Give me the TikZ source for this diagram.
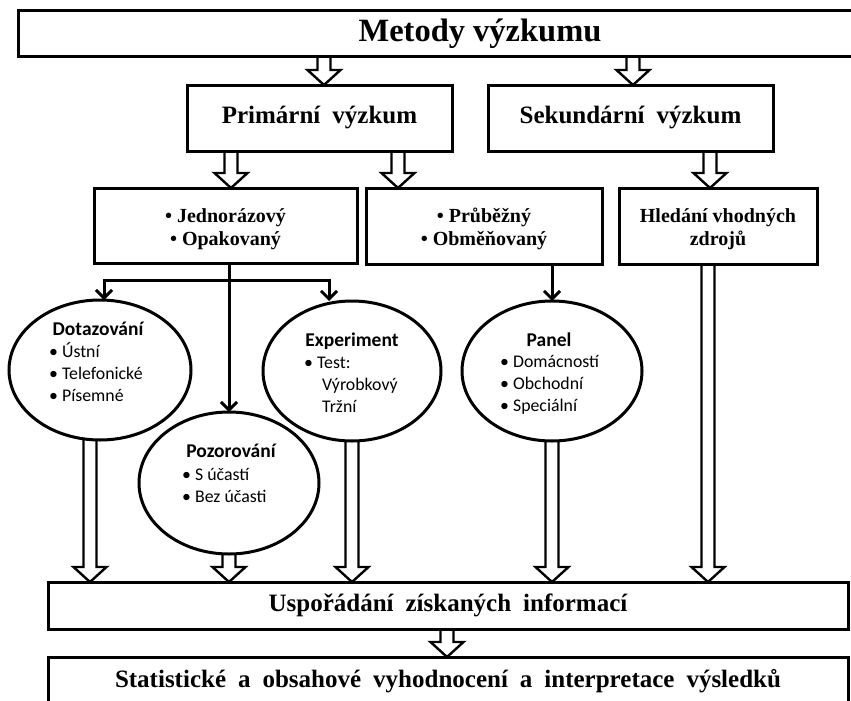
\documentclass[tikz,border=0pt]{standalone}
\usepackage{fontspec}
\setmainfont{Liberation Serif}
\newfontfamily\calib{Carlito}
\usetikzlibrary{arrows.meta,shapes.geometric,calc}

% wide word spacing used in the large box titles
\newcommand\titlefont{\fontsize{25}{28}\selectfont\spaceskip=0.48em\relax}

\tikzset{
  box/.style={draw, line width=3pt, inner sep=0pt, outer sep=0pt, font=\bfseries},
  boxtext/.style={font=\bfseries\fontsize{20}{23}\selectfont, inner sep=0pt, anchor=base},
  oval/.style={draw, ellipse, line width=3pt, inner sep=0pt, outer sep=0pt},
  conn/.style={line width=3pt},
  barb/.tip={Straight Barb[length=8pt,width=16pt]},
  connarrow/.style={conn, -barb},
  hollow/.style={line width=2.4pt, line join=miter},
  ohead/.style={font=\calib\bfseries\fontsize{19.5}{22}\selectfont, inner sep=0pt, anchor=base},
  oitems/.style={font=\calib\fontsize{17.8}{22}\selectfont, inner sep=0pt, anchor=base west},
}

% open block arrow pointing down at x = #1, from node anchor #2 to node anchor #3
\newcommand\hollowarrow[3]{%
  \draw[hollow] let \p1=(#2), \p2=(#3) in
    (#1pt-6.5pt,\y1) -- (#1pt-6.5pt,\y2+15pt) -- (#1pt-16.5pt,\y2+15pt)
    -- (#1pt,\y2) -- (#1pt+16.5pt,\y2+15pt) -- (#1pt+6.5pt,\y2+15pt)
    -- (#1pt+6.5pt,\y1);
}

\begin{document}
\begin{tikzpicture}[x=1pt,y=-1pt]
\fill[white] (0,0) rectangle (851,701);
\useasboundingbox (0,0) rectangle (851,701);

% title and main branches
\node[box, minimum width=924pt, minimum height=46pt] (metody) at (480,34)
  {\fontsize{32.5}{36}\selectfont Metody výzkumu};
\node[box, minimum width=265pt, minimum height=66pt] (prim) at (319.5,118)
  {\titlefont Primární výzkum};
\node[box, minimum width=285pt, minimum height=66pt] (sek) at (630.5,118)
  {\titlefont Sekundární výzkum};

% second level boxes
\node[box, minimum width=263pt, minimum height=75pt] (jedn) at (225.5,225.5) {};
\node[box, minimum width=236pt, minimum height=76pt] (prub) at (484,226) {};
\node[box, minimum width=198pt, minimum height=76pt] (hled) at (718,226) {};
\node[boxtext] (jednT) at (225.5,222.5)
  {\begin{tabular}[t]{@{}c@{}}• Jednorázový\\• Opakovaný\end{tabular}};
\node[boxtext] (prubT) at (484,222.5)
  {\begin{tabular}[t]{@{}c@{}}• Průběžný\\• Obměňovaný\end{tabular}};
\node[boxtext] (hledT) at (718,222)
  {\begin{tabular}[t]{@{}c@{}}Hledání vhodných\\zdrojů\end{tabular}};

% methods
\node[oval, minimum width=182pt, minimum height=140pt] (dotaz) at (100,370) {};
\node[oval, minimum width=178pt, minimum height=140pt] (exper) at (352,371) {};
\node[oval, minimum width=180pt, minimum height=140pt] (panel) at (552,371) {};
\node[oval, minimum width=180pt, minimum height=142pt] (pozor) at (229,483) {};

\node[ohead] (dotazH) at (98,335) {Dotazování};
\node[oitems] (dotazL) at (49,357) {\begin{tabular}[t]{@{}l@{}}
  • Ústní\\ • Telefonické\\ • Písemné\end{tabular}};
\node[ohead] (experH) at (352,346) {Experiment};
\node[oitems] (experL) at (304,368) {\begin{tabular}[t]{@{}l@{}}
  • Test:\\ \hspace*{18pt}Výrobkový\\ \hspace*{18pt}Tržní\end{tabular}};
\node[ohead] (panelH) at (549,346) {Panel};
\node[oitems] (panelL) at (500,367) {\begin{tabular}[t]{@{}l@{}}
  • Domácností\\ • Obchodní\\ • Speciální\end{tabular}};
\node[ohead] (pozorH) at (231,457) {Pozorování};
\node[oitems] (pozorL) at (182,480) {\begin{tabular}[t]{@{}l@{}}
  • S účastí\\ • Bez účasti\end{tabular}};

% results
\node[box, minimum width=800pt, minimum height=47pt] (uspor) at (448,605.5)
  {\titlefont Uspořádání získaných informací};
\node[box, minimum width=800pt, minimum height=48pt] (stat) at (448,681)
  {\titlefont Statistické a obsahové vyhodnocení a interpretace výsledků};

% plain connectors
\coordinate (bl) at (104,280);
\coordinate (br) at (329,280);
\draw[conn, barb-barb] (bl |- dotaz.north) -- (bl) -- (br) -- (br |- exper.north);
\draw[connarrow] (jedn.south -| pozor.north) -- (pozor.north);
\draw[connarrow] (prub.south -| panel.north) -- (panel.north);

% block arrows
\hollowarrow{324}{metody.south}{prim.north}
\hollowarrow{633}{metody.south}{sek.north}
\hollowarrow{231}{prim.south}{jedn.north}
\hollowarrow{398}{prim.south}{prub.north}
\hollowarrow{710}{sek.south}{hled.north}
\hollowarrow{90}{dotaz.south}{uspor.north}
\hollowarrow{229}{pozor.south}{uspor.north}
\hollowarrow{352}{exper.south}{uspor.north}
\hollowarrow{552}{panel.south}{uspor.north}
\hollowarrow{708}{hled.south}{uspor.north}
\hollowarrow{447}{uspor.south}{stat.north}
\end{tikzpicture}
\end{document}
